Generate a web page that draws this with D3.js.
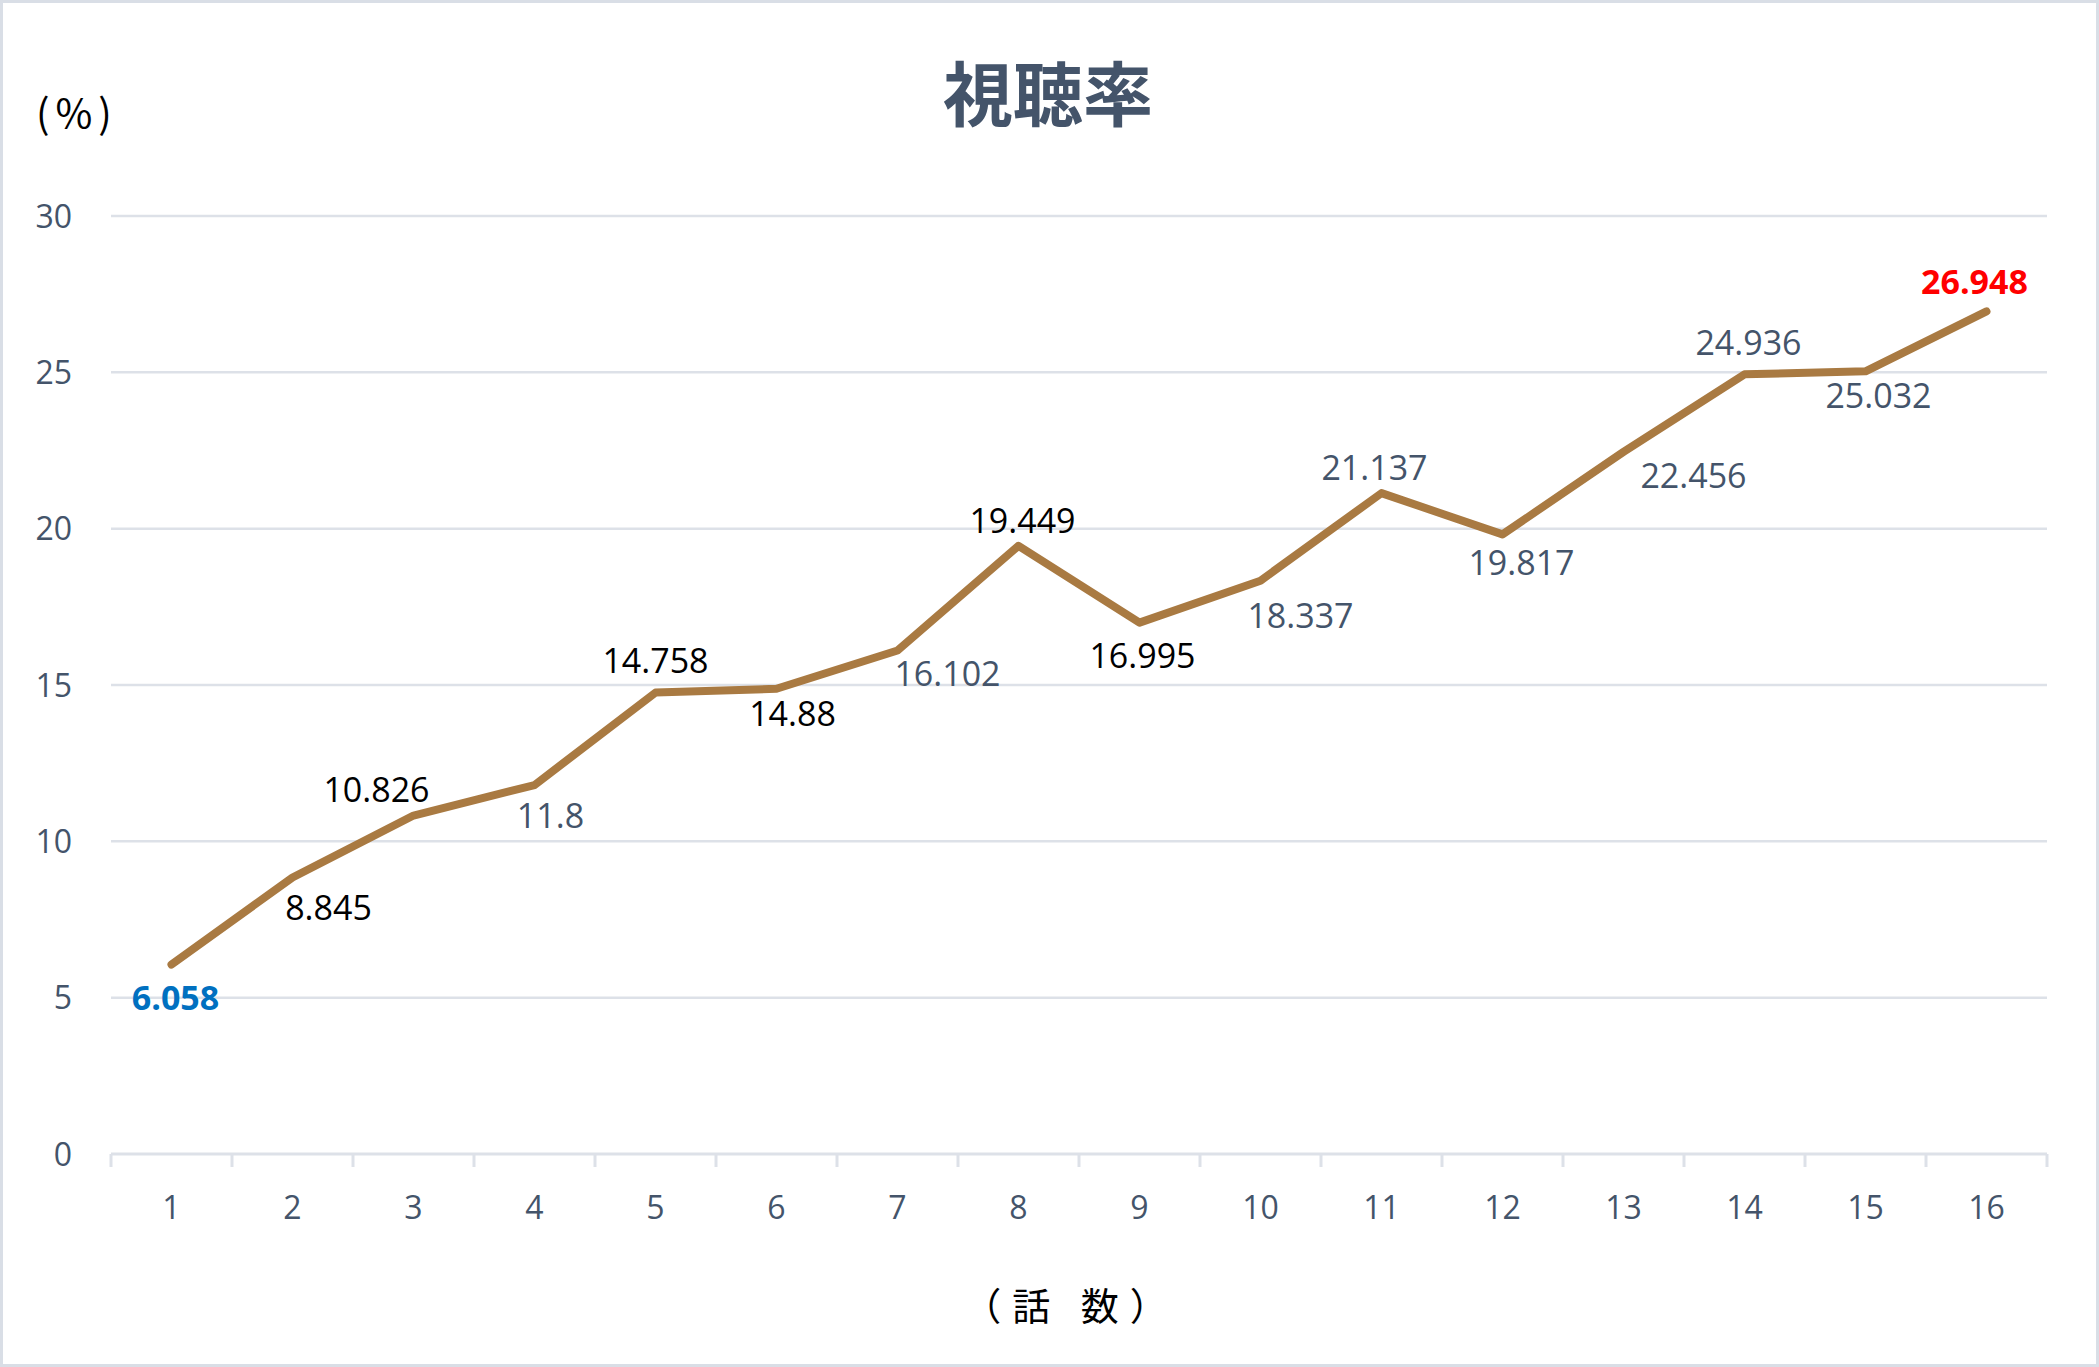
<!DOCTYPE html>
<html lang="ja">
<head>
<meta charset="utf-8">
<title>視聴率</title>
<script src="https://d3js.org/d3.v7.min.js"></script>
<style>
  body{margin:0;background:#fff;}
  text{font-family:"Open Sans","Noto Sans CJK JP",sans-serif;}
  .cjk{font-family:"Noto Sans CJK JP",sans-serif;}
</style>
</head>
<body>
<div id="chart"></div>
<script>
// data
var episodes = ["1","2","3","4","5","6","7","8","9","10","11","12","13","14","15","16"]
var ratings = [6.058, 8.845, 10.826, 11.8, 14.758, 14.88, 16.102, 19.449,
               16.995, 18.337, 21.137, 19.817, 22.456, 24.936, 25.032, 26.948]
var yTicks = [0, 5, 10, 15, 20, 25, 30]

// label look, per point (dark / muted / min / max)
var labelKind = ["min","dark","dark","muted","dark","dark","muted","dark",
                 "dark","muted","muted","muted","muted","muted","muted","max"]
// label nudges in px relative to the point (manual placement like the source)
var labelNudge = [[4,34],[36,31],[-37,-25],[16,31],[0,-31],[16,25],[50,24],[4,-25],
                  [3,33],[40,35],[-7,-25],[19,29],[70,24],[4,-31],[13,25],[-12,-29]]

var W = 2099, H = 1367
var plotLeft = 111, plotRight = 2047, plotTop = 216, plotBottom = 1154
var muted = "#44546A"

var svg = d3.select("#chart").append("svg")
    .attr("width", W).attr("height", H)

// outer frame
svg.append("rect")
    .attr("x", 1.5).attr("y", 1.5)
    .attr("width", W - 3).attr("height", H - 3)
    .attr("fill", "#fff").attr("stroke", "#D9DEE6").attr("stroke-width", 3)

var xScale = d3.scaleBand().domain(episodes).range([plotLeft, plotRight])
var yScale = d3.scaleLinear().domain([0, 30]).range([plotBottom, plotTop])

// gridlines
svg.append("g").selectAll("line")
    .data(yTicks.filter(function(d){ return d > 0 }))
    .enter().append("line")
    .attr("x1", plotLeft).attr("x2", plotRight)
    .attr("y1", function(d){ return yScale(d) })
    .attr("y2", function(d){ return yScale(d) })
    .attr("stroke", "#DDE1E8").attr("stroke-width", 2.5)

// y axis labels
var yAxis = d3.axisLeft(yScale).tickValues(yTicks).tickSize(0).tickPadding(39)
var gy = svg.append("g").attr("transform", "translate(" + plotLeft + ",0)").call(yAxis)
gy.select(".domain").remove()
gy.selectAll("text").attr("fill", muted).style("font-size", "32px")
    .attr("dy", "0.35em")

// x axis with ticks at band edges
var gx = svg.append("g").attr("transform", "translate(0," + plotBottom + ")")
gx.append("line")
    .attr("x1", plotLeft).attr("x2", plotRight)
    .attr("stroke", "#DDE1E8").attr("stroke-width", 3)
var edges = episodes.map(function(d){ return xScale(d) }).concat([plotRight])
gx.selectAll(".tk").data(edges).enter().append("line")
    .attr("class", "tk")
    .attr("x1", function(d){ return d }).attr("x2", function(d){ return d })
    .attr("y1", 0).attr("y2", 13)
    .attr("stroke", "#DDE1E8").attr("stroke-width", 3)
gx.selectAll(".xl").data(episodes).enter().append("text")
    .attr("class", "xl")
    .attr("x", function(d){ return xScale(d) + xScale.bandwidth() / 2 })
    .attr("y", 54)
    .attr("dy", "0.35em")
    .attr("text-anchor", "middle")
    .attr("fill", muted).style("font-size", "32px")
    .text(function(d){ return d })

// the line
var line = d3.line()
    .x(function(d, i){ return xScale(episodes[i]) + xScale.bandwidth() / 2 })
    .y(function(d){ return yScale(d) })
svg.append("path")
    .datum(ratings)
    .attr("d", line)
    .attr("fill", "none")
    .attr("stroke", "#A97A42")
    .attr("stroke-width", 8)
    .attr("stroke-linecap", "round")
    .attr("stroke-linejoin", "round")

// data labels
var kindColor = {dark: "#000", muted: muted, min: "#0070C0", max: "#FF0000"}
svg.append("g").selectAll("text")
    .data(ratings).enter().append("text")
    .attr("x", function(d, i){ return xScale(episodes[i]) + xScale.bandwidth() / 2 + labelNudge[i][0] })
    .attr("y", function(d, i){ return yScale(d) + labelNudge[i][1] })
    .attr("dy", "0.35em")
    .attr("text-anchor", "middle")
    .attr("fill", function(d, i){ return kindColor[labelKind[i]] })
    .style("font-size", "34px")
    .style("font-weight", function(d, i){ return (labelKind[i] == "min" || labelKind[i] == "max") ? "bold" : "normal" })
    .text(function(d){ return d })

// title
svg.append("text")
    .attr("class", "cjk")
    .attr("x", 1048).attr("y", 96)
    .attr("dy", "0.35em")
    .attr("text-anchor", "middle")
    .attr("fill", muted)
    .style("font-size", "70px").style("font-weight", "bold")
    .text("視聴率")

// unit label
svg.append("text")
    .attr("class", "cjk")
    .attr("x", 36).attr("y", 114)
    .attr("dy", "0.35em")
    .attr("fill", "#000")
    .style("font-size", "40px").style("letter-spacing", "6px")
    .text("(%)")

// x axis title
svg.append("text")
    .attr("class", "cjk")
    .attr("x", 1071).attr("y", 1307)
    .attr("dy", "0.35em")
    .attr("text-anchor", "middle")
    .attr("fill", "#000")
    .style("font-size", "38px").style("letter-spacing", "11px")
    .text("（話 数）")
</script>
</body>
</html>
